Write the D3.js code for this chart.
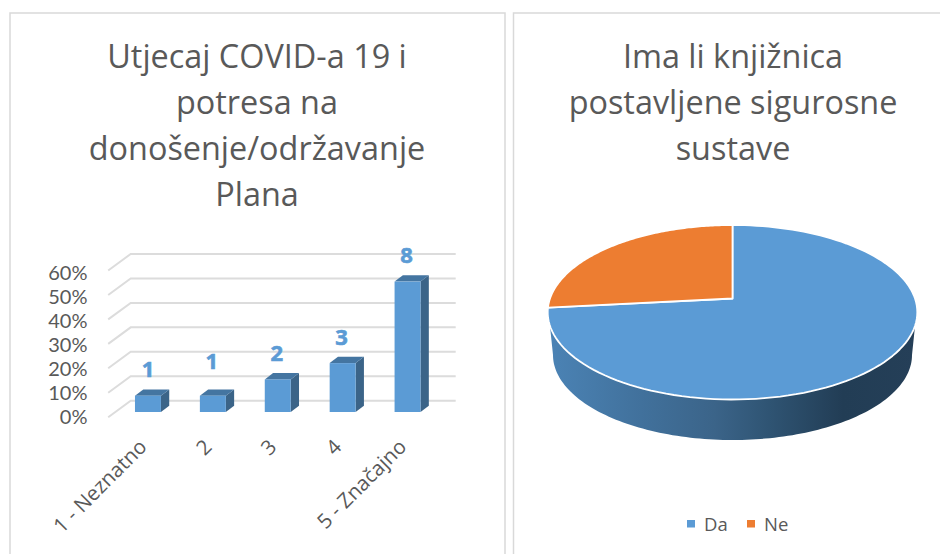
<!DOCTYPE html>
<html>
<head>
<meta charset="utf-8">
<script src="https://cdn.jsdelivr.net/npm/d3@7"></script>
<style>
  html, body { margin: 0; padding: 0; background: #fff; }
  svg { display: block; }
  text { font-family: "Open Sans", sans-serif; fill: #595959; }
</style>
</head>
<body>
<div id="chart"></div>
<script>
var w = 940, h = 554;

// Bar chart data
var barTitle = ["Utjecaj COVID-a 19 i", "potresa na", "donošenje/održavanje", "Plana"];
var barCategories = ["1 - Neznatno", "2", "3", "4", "5 - Značajno"];
var barCounts = [1, 1, 2, 3, 8];
var percentTicks = [0, 10, 20, 30, 40, 50, 60];

// Pie chart data
var pieTitle = ["Ima li knjižnica", "postavljene sigurosne", "sustave"];
var pieCategories = ["Da", "Ne"];
var pieCounts = [11, 4];
var pieColors = ["#5b9bd5", "#ed7d31"];

var svg = d3.select("#chart").append("svg")
  .attr("width", w)
  .attr("height", h);

var defs = svg.append("defs");

// Panel borders, open at the bottom and on the right where the crop cuts them
svg.append("path")
  .attr("d", "M10,554V13H505V554")
  .attr("fill", "none")
  .attr("stroke", "#d9d9d9")
  .attr("stroke-width", 1.5);
svg.append("path")
  .attr("d", "M513.5,554V13H940")
  .attr("fill", "none")
  .attr("stroke", "#d9d9d9")
  .attr("stroke-width", 1.5);

function drawTitle(lines, cx) {
  svg.append("g").selectAll("text")
    .data(lines)
    .enter()
    .append("text")
    .attr("x", cx)
    .attr("y", function(d, i) { return 68 + i * 46; })
    .attr("text-anchor", "middle")
    .style("font-size", "32.4px")
    .text(function(d) { return d; });
}
drawTitle(barTitle, 257);
drawTitle(pieTitle, 733);

// ---- 3D column chart ----
var total = d3.sum(barCounts);
var wallX = [130.7, 455.7];
var floorDx = -22.5, floorDy = 16.5;   // back wall to front edge of the floor
var barDy = 11.3;                      // back wall to front face of the bars
var depthX = 8.3, depthY = 6.3;        // visible depth of a bar

var xScale = d3.scaleBand()
  .domain(barCategories)
  .range([115.5, 440])
  .paddingInner(0.6)
  .paddingOuter(0.3);

var yScale = d3.scaleLinear()
  .domain([0, 60])
  .range([400.7, 254]);

// Tick labels are spaced a little tighter than the gridlines
var tickScale = d3.scaleLinear()
  .domain([0, 60])
  .range([417.3, 273.3]);

// Gridlines on the back wall and the side wall
var grid = svg.append("g")
  .attr("fill", "none")
  .attr("stroke", "#dcdcdc")
  .attr("stroke-width", 2);
grid.selectAll("path")
  .data(percentTicks)
  .enter()
  .append("path")
  .attr("d", function(d) {
    return d3.line()([
      [wallX[0] + floorDx, yScale(d) + floorDy],
      [wallX[0], yScale(d)],
      [wallX[1], yScale(d)]
    ]);
  });

var yAxis = d3.axisLeft()
  .scale(tickScale)
  .tickValues(percentTicks)
  .tickSize(0)
  .tickPadding(0)
  .tickFormat(function(d) { return d + "%"; });
var yAxisG = svg.append("g")
  .attr("transform", "translate(87.5, 0)")
  .call(yAxis);
yAxisG.select(".domain").remove();
yAxisG.selectAll("text")
  .style("font-family", "Lato, sans-serif")
  .style("font-size", "20px");

// Bars: side, top, then front face
var bars = svg.append("g").selectAll("g")
  .data(barCounts)
  .enter()
  .append("g");

function barX(i) { return xScale(barCategories[i]); }
function barTop(d) { return yScale(d / total * 100) + barDy; }
var barBase = yScale(0) + barDy;

bars.append("path")
  .attr("fill", "#3b6488")
  .attr("d", function(d, i) {
    var x = barX(i) + xScale.bandwidth();
    return d3.line()([
      [x, barTop(d)],
      [x + depthX, barTop(d) - depthY],
      [x + depthX, barBase - depthY],
      [x, barBase]
    ]) + "Z";
  });
bars.append("path")
  .attr("fill", "#4475a1")
  .attr("d", function(d, i) {
    var x = barX(i);
    return d3.line()([
      [x, barTop(d)],
      [x + depthX, barTop(d) - depthY],
      [x + xScale.bandwidth() + depthX, barTop(d) - depthY],
      [x + xScale.bandwidth(), barTop(d)]
    ]) + "Z";
  });
bars.append("rect")
  .attr("x", function(d, i) { return barX(i); })
  .attr("y", barTop)
  .attr("width", xScale.bandwidth())
  .attr("height", function(d) { return barBase - barTop(d); })
  .attr("fill", "#5b9bd5");

// Data labels: the second one was moved up by hand in the original
var labelNudge = [0, -8, 0, 0, 0];
bars.append("text")
  .attr("x", function(d, i) { return barX(i) + xScale.bandwidth() / 2 - (i ? 1 : 0); })
  .attr("y", function(d, i) { return barTop(d) - 18.6 + labelNudge[i]; })
  .attr("text-anchor", "middle")
  .style("font-size", "22px")
  .style("font-weight", "bold")
  .style("fill", "#5b9bd5")
  .style("stroke", "#5b9bd5")
  .style("stroke-width", 0.6)
  .text(function(d) { return d; });

// X axis with slanted labels
var xAxis = d3.axisBottom()
  .scale(xScale)
  .tickSize(0)
  .tickPadding(0);
var xAxisG = svg.append("g")
  .attr("transform", "translate(0, 443)")
  .call(xAxis);
xAxisG.select(".domain").remove();
xAxisG.selectAll("text")
  .attr("y", 0)
  .attr("dy", "0.35em")
  .attr("text-anchor", "end")
  .attr("transform", "translate(-5, 0) rotate(-45)")
  .style("font-size", "20.5px");

// ---- 3D pie chart ----
var pie = d3.pie().sort(null)(pieCounts);

// Circle in the plane of the pie seen in perspective: the hub lands above the
// centre of the drawn ellipse, so the far half comes out shorter than the near one
var hubX = 732.5, hubY = 298.5;
var persp = -0.1576, scaleU = 182.5, scaleV = 85.08;
function project(angle) {
  var u = Math.sin(angle), v = -Math.cos(angle);
  var q = 1 + persp * v;
  return [hubX + scaleU * u / q, hubY + scaleV * v / q];
}
function sliceOutline(s) {
  var steps = d3.range(0, 121).map(function(k) {
    return project(s.startAngle + (s.endAngle - s.startAngle) * k / 120);
  });
  return d3.line()([[hubX, hubY]].concat(steps)) + "Z";
}

// Wall gradient runs left to right and is flat past the dark end
var wallStops = [
  [0, "#4b83b5"], [0.25, "#41719c"], [0.45, "#3b6489"],
  [0.6, "#2f5473"], [0.8, "#223d55"], [1, "#253f58"]
];
var wallGrad = defs.append("linearGradient")
  .attr("id", "pie-wall")
  .attr("x1", 0).attr("x2", 1).attr("y1", 0).attr("y2", 0);
wallGrad.selectAll("stop")
  .data(wallStops)
  .enter()
  .append("stop")
  .attr("offset", function(d) { return d[0]; })
  .attr("stop-color", function(d) { return d[1]; });

// Wall = lower half of the smaller bottom ellipse joined to the top rim
var bottomCx = 732.5, bottomCy = 355, bottomRx = 179.5, bottomRy = 85;
var wallArc = d3.range(0, 121).map(function(k) {
  var t = Math.PI * k / 120;
  return [bottomCx - bottomRx * Math.cos(t), bottomCy + bottomRy * Math.sin(t)];
});
svg.append("path")
  .attr("d", d3.line()([[548.5, 312]].concat(wallArc, [[916.5, 312]])) + "Z")
  .attr("fill", "url(#pie-wall)");

svg.append("g").selectAll("path")
  .data(pie)
  .enter()
  .append("path")
  .attr("d", sliceOutline)
  .attr("fill", function(d, i) { return pieColors[i]; })
  .attr("stroke", "#fff")
  .attr("stroke-width", 1.8)
  .attr("stroke-linejoin", "round");

// Legend
var legendX = [687, 747];
var legend = svg.append("g").selectAll("g")
  .data(pieCategories)
  .enter()
  .append("g");
legend.append("rect")
  .attr("x", function(d, i) { return legendX[i]; })
  .attr("y", 520)
  .attr("width", 8)
  .attr("height", 7.5)
  .attr("fill", function(d, i) { return pieColors[i]; });
legend.append("text")
  .attr("x", function(d, i) { return legendX[i] + 17; })
  .attr("y", 531)
  .style("font-size", "18.5px")
  .text(function(d) { return d; });
</script>
</body>
</html>
